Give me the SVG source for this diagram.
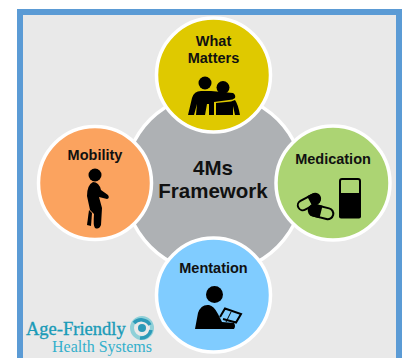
<svg xmlns="http://www.w3.org/2000/svg" width="402" height="358" viewBox="0 0 402 358">
<style>
.c{stroke:#fff;stroke-width:3.5}
.t{font-family:"Liberation Sans",Arial,sans-serif;font-weight:700;fill:#111;text-anchor:middle}
.s{font-size:14.5px}
.i{fill:#000}
.o{fill:none;stroke:#000;stroke-width:2}
</style>
<rect width="402" height="358" fill="#fff"/>
<rect x="20" y="12" width="379" height="350" fill="#e9e9e9" stroke="#5b9bd5" stroke-width="6"/>
<g id="center"><circle class="c" cx="214" cy="183" r="90" fill="#aeb1b4"/>
<text class="t" x="213" y="175" font-size="20.500">4Ms</text><text class="t" x="213" y="198" font-size="20.500">Framework</text></g>
<g id="what-matters"><circle class="c" cx="213.500" cy="75" r="57" fill="#dfc900"/>
<text class="t s" x="213.500" y="46">What</text><text class="t s" x="213.500" y="63">Matters</text>
<circle class="i" cx="205" cy="83" r="6.500"/><circle class="i" cx="223" cy="87.500" r="6.500"/>
<path class="i" d="M188 115L192 98Q194 91 201 91H211L233 93Q236 95 235 98Q233 100 229 100L214 102V115H209V104H207L205 115H196L197 104L194 115Z"/>
<path class="i" d="M216 103L231 101.500L235 100Q238 104 240 115H235L233 106V115H216Z"/></g>
<g id="medication"><circle class="c" cx="333" cy="183" r="57" fill="#acd473"/>
<text class="t s" x="333" y="164">Medication</text>
<rect x="340" y="179" width="20" height="38" rx="2" class="o"/><rect x="339" y="193" width="22" height="25.500" rx="2" class="i"/>
<g transform="translate(309 202) rotate(-28)"><rect x="-12" y="-5" width="24" height="10" rx="5" class="o"/><path class="i" d="M1-6H6A6 6 0 0 1 6 6H1Z"/></g>
<g transform="translate(321 212) rotate(14)"><rect x="-12.500" y="-5.500" width="25" height="11" rx="5.500" fill="#acd473" stroke="#000" stroke-width="2"/><path class="i" d="M0-6.500H-6A6.500 6.500 0 0 0 -6 6.500H0Z"/></g></g>
<g id="mobility"><circle class="c" cx="95" cy="183" r="56.500" fill="#fba35f"/>
<text class="t s" x="95" y="160">Mobility</text>
<circle class="i" cx="95" cy="175" r="6.500"/>
<path class="i" d="M93 182Q99 182 101 190L108 195Q110 198 107 199L99 197L102 208L101 225Q99 230 95 228Q93 226 94 214L90 210L87 196Q87 185 93 182Z"/>
<path class="i" d="M89 210L92 213L91 226L87 225Z"/></g>
<g id="mentation"><circle class="c" cx="213.500" cy="295" r="57" fill="#80ccff"/>
<text class="t s" x="213.500" y="273">Mentation</text>
<circle class="i" cx="214.500" cy="294.500" r="8.500"/>
<path class="i" d="M195 329L198 313Q201 304 209 305Q214 306 218 314L222 322L234 323Q236 326 234 329Z"/>
<path class="o" d="M220 317L225 308.500L241 314L236 322.500L223 319"/><path d="M231 312L226 322" stroke="#000" stroke-width="1"/></g>
<g id="logo"><text x="26" y="335" font-family="Liberation Serif,serif" font-size="18.500" fill="#1a9bb8" stroke="#1a9bb8" stroke-width=".35">Age-Friendly</text>
<text x="52" y="352" font-family="Liberation Serif,serif" font-size="16" fill="#33b0cc">Health Systems</text>
<circle cx="142" cy="328" r="10" fill="none" stroke="#8fd0d8" stroke-width="4"/>
<path d="M134 323A10 10 0 0 1 150 325M151 330A10 10 0 0 1 140 338" fill="none" stroke="#2c9ab8" stroke-width="3.500"/>
<circle cx="142" cy="328" r="4" fill="#2c9ab8"/></g>
</svg>
